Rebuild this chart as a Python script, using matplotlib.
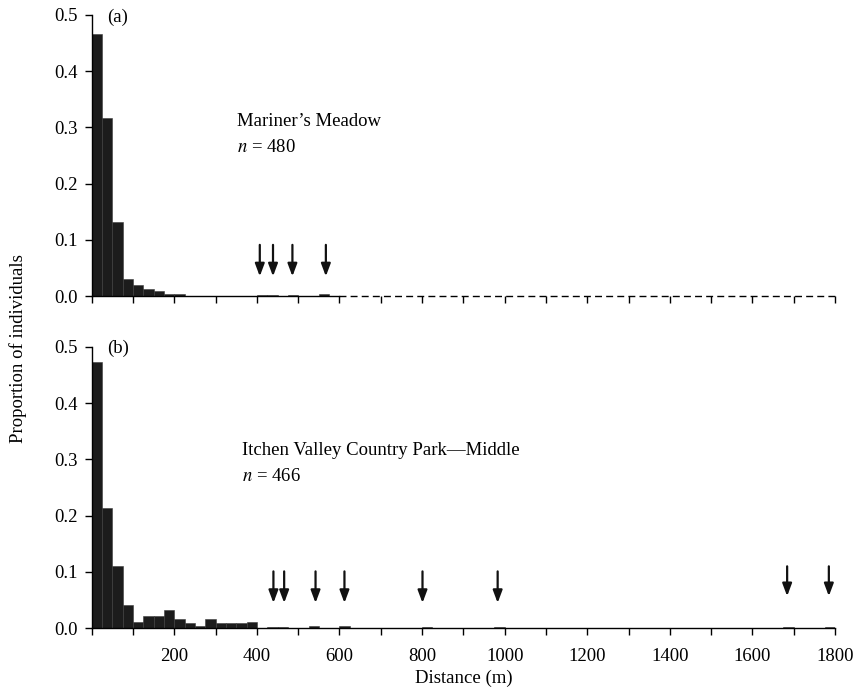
import numpy as np
import matplotlib
matplotlib.use("Agg")
import matplotlib.pyplot as plt

plt.rcParams['font.family'] = ['Liberation Serif', 'DejaVu Serif']
plt.rcParams['mathtext.fontset'] = 'stix'

# 25 m distance bins: left edge of each non-empty bin and its proportion
bin_width = 25
a_left = [0, 25, 50, 75, 100, 125, 150, 175, 200, 400, 425, 475, 550]
a_prop = [0.466, 0.317, 0.131, 0.030, 0.019, 0.013, 0.0084, 0.0042, 0.0042,
          0.0021, 0.0021, 0.0021, 0.0042]
a_arrows = [407, 439, 486, 567]

b_left = [0, 25, 50, 75, 100, 125, 150, 175, 200, 225, 250, 275, 300, 325,
          350, 375, 425, 450, 525, 600, 800, 975, 1675, 1775]
b_prop = [0.472, 0.213, 0.111, 0.041, 0.012, 0.021, 0.021, 0.032, 0.017,
          0.0086, 0.0043, 0.017, 0.0086, 0.0086, 0.0086, 0.0107, 0.0021,
          0.0021, 0.0043, 0.0043, 0.0021, 0.0021, 0.0021, 0.0021]
b_arrows = [440, 466, 542, 612, 801, 983, 1684, 1785]

yticks = [0.0, 0.1, 0.2, 0.3, 0.4, 0.5]
xticks = np.arange(0, 1801, 100)
xlabels = ['' if (t == 0 or t % 200) else str(t) for t in xticks]

fs = 13.5
fig = plt.figure(figsize=(8.54, 6.97), dpi=100)
ax_a = fig.add_axes([0.1074, 0.5753, 0.8704, 0.4032])
ax_b = fig.add_axes([0.1074, 0.0986, 0.8704, 0.4040])


def style(ax):
    ax.set_xlim(0, 1800)
    ax.set_ylim(0, 0.5)
    for s in ['top', 'right']:
        ax.spines[s].set_visible(False)
    for s in ['left', 'bottom']:
        ax.spines[s].set_linewidth(1.0)
    ax.set_yticks(yticks)
    ax.set_yticklabels(['%.1f' % v for v in yticks])
    ax.set_xticks(xticks)
    ax.tick_params(axis='both', direction='out', length=5, width=1.0,
                   labelsize=fs, color='black')
    ax.tick_params(axis='y', pad=5)
    ax.tick_params(axis='x', pad=9)


def bars(ax, left, prop):
    ax.bar(left, prop, width=bin_width, align='edge', color='#1c1c1c',
           edgecolor='#3c3c3c', linewidth=0.4)


def arrows(ax, xs, top, tip):
    for x in xs:
        ax.annotate('', xy=(x, tip), xytext=(x, top),
                    arrowprops=dict(arrowstyle='-|>,head_length=0.75,head_width=0.28',
                                    lw=1.6, color='#111111', shrinkA=0, shrinkB=0,
                                    mutation_scale=10))


# panel (a)
style(ax_a)
bars(ax_a, a_left, a_prop)
ax_a.set_xticklabels([''] * len(xticks))
ax_a.spines['bottom'].set_bounds(0, 600)
ax_a.plot([600, 1800], [0, 0], color='black', lw=1.0, ls=(0, (5, 3)),
          clip_on=False)
arrows(ax_a, a_arrows, 0.091, 0.035)
ax_a.text(37, 0.487, '(a)', fontsize=fs)
ax_a.text(351, 0.3025, 'Mariner\u2019s Meadow', fontsize=fs)
ax_a.text(351, 0.256, r'$n$ = 480', fontsize=fs)

# panel (b)
style(ax_b)
bars(ax_b, b_left, b_prop)
ax_b.set_xticklabels(xlabels)
for x in b_arrows:
    if x > 1500:
        arrows(ax_b, [x], 0.110, 0.057)
    else:
        arrows(ax_b, [x], 0.101, 0.045)
ax_b.text(37, 0.489, '(b)', fontsize=fs)
ax_b.text(363, 0.3077, 'Itchen Valley Country Park\u2014Middle', fontsize=fs)
ax_b.text(363, 0.2615, r'$n$ = 466', fontsize=fs)

fig.text(0.021, 0.5, 'Proportion of individuals', rotation=90,
         ha='center', va='center', fontsize=fs)
fig.text(0.543, 0.027, 'Distance (m)', ha='center', va='center', fontsize=fs)

fig.savefig('out.png', dpi=100)
